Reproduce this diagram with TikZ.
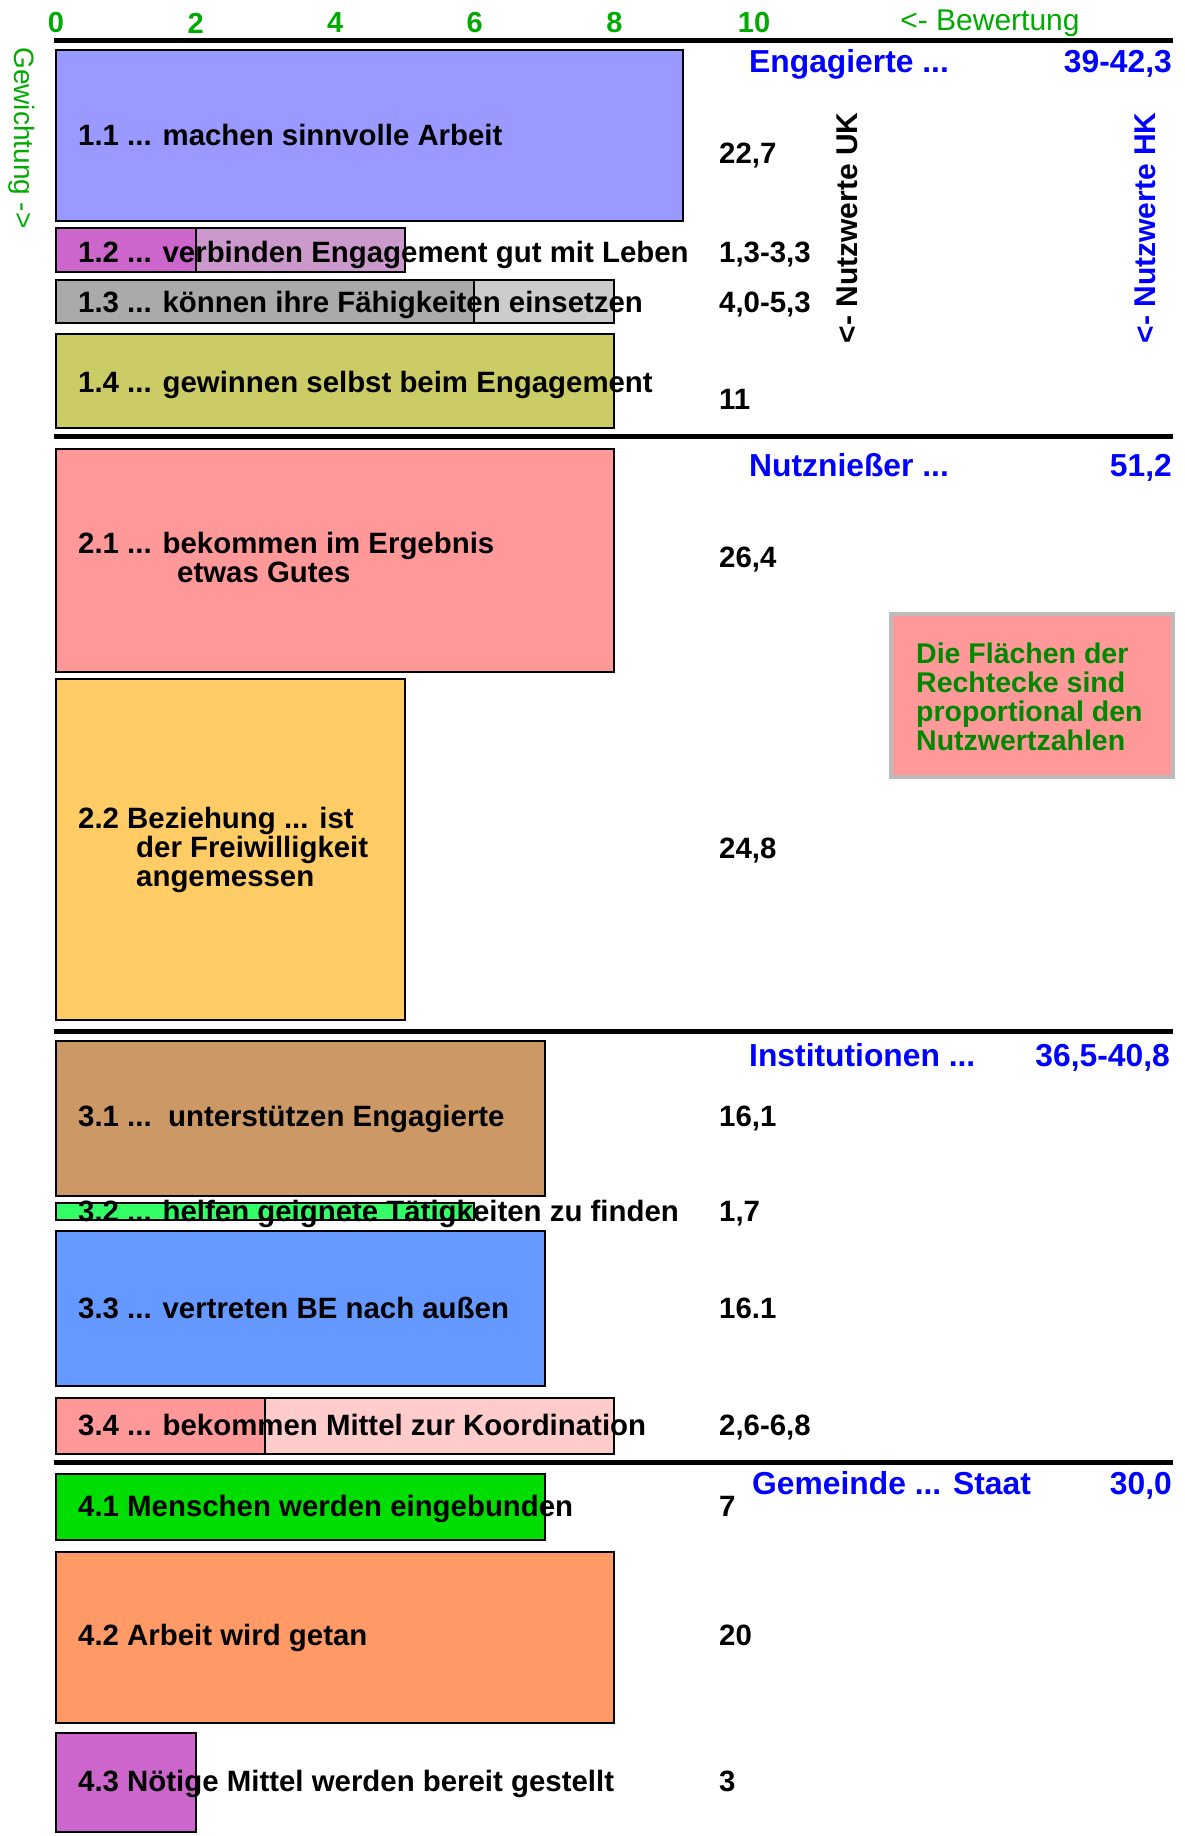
\documentclass[tikz,border=0pt]{standalone}
\usepackage{fontspec}
\setmainfont{Liberation Sans}
\usepackage{tikz}

\definecolor{achsgruen}{HTML}{00AA00}
\definecolor{textgruen}{HTML}{008800}
\definecolor{rahmengrau}{HTML}{BBBBBB}
\definecolor{c11}{HTML}{9999FF}
\definecolor{c12a}{HTML}{CC66CC}
\definecolor{c12b}{HTML}{CC99CC}
\definecolor{c13a}{HTML}{AAAAAA}
\definecolor{c13b}{HTML}{CCCCCC}
\definecolor{c14}{HTML}{CCCC66}
\definecolor{c21}{HTML}{FF9999}
\definecolor{c22}{HTML}{FFCC66}
\definecolor{c31}{HTML}{CC9966}
\definecolor{c32}{HTML}{33FF66}
\definecolor{c33}{HTML}{6699FF}
\definecolor{c34a}{HTML}{FF9999}
\definecolor{c34b}{HTML}{FFCCCC}
\definecolor{c41}{HTML}{00DD00}
\definecolor{c42}{HTML}{FF9966}
\definecolor{c43}{HTML}{CC66CC}

\begin{document}
\begin{tikzpicture}[x=1pt, y=-1pt,
	bar/.style={draw=black, line width=2.5pt},
	trenn/.style={line width=5pt},
	lbl/.style={anchor=west, inner sep=0pt, text height=21pt, text depth=0pt, font=\fontsize{29.4}{29}\selectfont\bfseries},
	mlbl/.style={anchor=north west, inner sep=0pt, align=left, font=\fontsize{29.4}{29}\selectfont\bfseries},
	kopf/.style={lbl, text=blue, text height=22pt, font=\fontsize{31.8}{32}\selectfont\bfseries},
	achse/.style={inner sep=0pt, text=achsgruen, font=\fontsize{30}{30}\selectfont}]
			\useasboundingbox (0,0) rectangle (1184,1836);
			% Achsen
			\foreach \v in {0,2,...,10} {
				\node[achse, font=\fontsize{29}{29}\selectfont\bfseries] (tick\v) at ({56+69.8*\v},23) {\v};
			}
			\node[achse] (bew) at (990,23) {<- Bewertung};
			\node[achse, rotate=-90, font=\fontsize{28}{28}\selectfont] (gew) at (22,138) {Gewichtung ->};
			\foreach \y in {41,436,1031,1462} {
				\draw[trenn] (54,\y) -- (1173,\y);
			}
			% Rechtecke
			\filldraw[bar, fill=c11] (56,50) rectangle (683,221);
			\filldraw[bar, fill=c12a] (56,228) rectangle (196,272);
			\filldraw[bar, fill=c12b] (196,228) rectangle (405,272);
			\filldraw[bar, fill=c13a] (56,280) rectangle (474,323);
			\filldraw[bar, fill=c13b] (474,280) rectangle (614,323);
			\filldraw[bar, fill=c14] (56,334) rectangle (614,428);
			\filldraw[bar, fill=c21] (56,449) rectangle (614,672);
			\filldraw[bar, fill=c22] (56,679) rectangle (405,1020);
			\filldraw[bar, fill=c31] (56,1041) rectangle (545,1196);
			\filldraw[bar, fill=c32] (56,1203) rectangle (474,1220);
			\filldraw[bar, fill=c33] (56,1231) rectangle (545,1386);
			\filldraw[bar, fill=c34a] (56,1398) rectangle (265,1454);
			\filldraw[bar, fill=c34b] (265,1398) rectangle (614,1454);
			\filldraw[bar, fill=c41] (56,1474) rectangle (545,1540);
			\filldraw[bar, fill=c42] (56,1552) rectangle (614,1723);
			\filldraw[bar, fill=c43] (56,1733) rectangle (196,1832);
			% Beschriftungen
			\node[lbl] (l11) at (78,135) {1.1 ... machen sinnvolle Arbeit};
			\node[lbl] (l12) at (78,252) {1.2 ... verbinden Engagement gut mit Leben};
			\node[lbl] (l13) at (78,302) {1.3 ... können ihre Fähigkeiten einsetzen};
			\node[lbl] (l14) at (78,382) {1.4 ... gewinnen selbst beim Engagement};
			\node[mlbl] (l21) at (78,532) {2.1 ... bekommen im Ergebnis\\\hspace*{99pt}etwas Gutes};
			\node[mlbl] (l22) at (78,807) {2.2 Beziehung ... ist\\\hspace*{58pt}der Freiwilligkeit\\\hspace*{58pt}angemessen};
			\node[lbl] (l31) at (78,1116) {3.1 ...\ \ unterstützen Engagierte};
			\node[lbl] (l32) at (78,1211) {3.2 ... helfen geignete Tätigkeiten zu finden};
			\node[lbl] (l33) at (78,1308) {3.3 ... vertreten BE nach außen};
			\node[lbl] (l34) at (78,1425) {3.4 ... bekommen Mittel zur Koordination};
			\node[lbl] (l41) at (78,1506) {4.1 Menschen werden eingebunden};
			\node[lbl] (l42) at (78,1635) {4.2 Arbeit wird getan};
			\node[lbl] (l43) at (78,1781) {4.3 Nötige Mittel werden bereit gestellt};
			% Nutzwerte
			\node[lbl] (v11) at (719,153) {22,7};
			\node[lbl] (v12) at (719,252) {1,3-3,3};
			\node[lbl] (v13) at (719,302) {4,0-5,3};
			\node[lbl] (v14) at (719,399) {11};
			\node[lbl] (v21) at (719,557) {26,4};
			\node[lbl] (v22) at (719,848) {24,8};
			\node[lbl] (v31) at (719,1116) {16,1};
			\node[lbl] (v32) at (719,1211) {1,7};
			\node[lbl] (v33) at (719,1308) {16.1};
			\node[lbl] (v34) at (719,1425) {2,6-6,8};
			\node[lbl] (v41) at (719,1506) {7};
			\node[lbl] (v42) at (719,1635) {20};
			\node[lbl] (v43) at (719,1781) {3};
			% Gruppen
			\node[kopf] (k1) at (749,61) {Engagierte ...};
			\node[kopf, anchor=east] (s1) at (1172,61) {39-42,3};
			\node[kopf] (k2) at (749,465) {Nutznießer ...};
			\node[kopf, anchor=east] (s2) at (1172,465) {51,2};
			\node[kopf] (k3) at (749,1055) {Institutionen ...};
			\node[kopf, anchor=east] (s3) at (1170,1055) {36,5-40,8};
			\node[kopf] (k4) at (752,1483) {Gemeinde ... Staat};
			\node[kopf, anchor=east] (s4) at (1172,1483) {30,0};
			\node[lbl, anchor=center, rotate=90, font=\fontsize{30}{30}\selectfont\bfseries] (uk) at (847,228) {<- Nutzwerte UK};
			\node[lbl, anchor=center, rotate=90, text=blue, font=\fontsize{30}{30}\selectfont\bfseries] (hk) at (1145,228) {<- Nutzwerte HK};
			% Hinweis
			\node[draw=rahmengrau, line width=4pt, fill=c21, minimum width=282pt, minimum height=163pt, inner sep=0pt] (hinweis) at (1032,695.5) {};
			\node[anchor=north west, align=left, inner sep=0pt, text=textgruen, font=\fontsize{28.5}{29}\selectfont\bfseries] (htext) at (916,643) {Die Flächen der\\Rechtecke sind\\proportional den\\Nutzwertzahlen};
		\end{tikzpicture}
\end{document}
